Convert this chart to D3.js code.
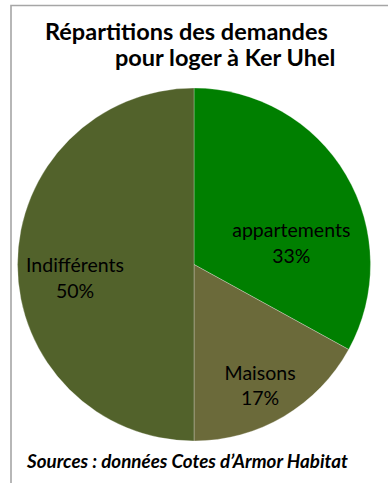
<!DOCTYPE html>
<html lang="fr">
<head>
<meta charset="utf-8">
<script src="https://cdn.jsdelivr.net/npm/d3@7"></script>
<style>
  html, body { margin: 0; padding: 0; background: #fff; }
  svg { display: block; }
  text { font-family: Lato, "Open Sans", "Noto Sans", sans-serif; fill: #000; }
</style>
</head>
<body>
<svg id="chart" width="388" height="483"></svg>
<script>
// Demand split for housing at Ker Uhel
const categories = ["appartements", "Maisons", "Indifférents"];
const shares = [33, 17, 50];
const percentLabels = ["33%", "17%", "50%"];
const sliceColors = ["#007f00", "#6b6a3a", "#52622b"];

const titleLines = ["Répartitions des demandes", "pour loger à Ker Uhel"];
const sourceNote = "Sources : données Cotes d’Armor Habitat";

const W = 388, H = 483;
const cx = 194, cy = 264.5, radius = 176.5, labelRadius = 120;

const svg = d3.select("#chart");

// frame (top and left edges visible)
svg.append("path")
  .attr("d", `M11,${H} L11,5.5 L${W},5.5`)
  .attr("fill", "none")
  .attr("stroke", "#a6a6a6")
  .attr("stroke-width", 1.6);

// title, two separate lines
svg.append("text")
  .attr("x", 45).attr("y", 39.5)
  .attr("font-weight", 700)
  .attr("font-size", 23.5)
  .text(titleLines[0]);
svg.append("text")
  .attr("x", 115).attr("y", 65.5)
  .attr("font-weight", 700)
  .attr("font-size", 23.5)
  .text(titleLines[1]);

// pie
const data = categories.map((c, i) => ({ name: c, value: shares[i], pct: percentLabels[i], color: sliceColors[i] }));
const pie = d3.pie().value(d => d.value).sort(null).startAngle(0).endAngle(2 * Math.PI);
const arc = d3.arc().innerRadius(0).outerRadius(radius);
const labelArc = d3.arc().innerRadius(labelRadius).outerRadius(labelRadius);
const arcs = pie(data);

const g = svg.append("g").attr("transform", `translate(${cx},${cy})`);
g.selectAll("path.slice")
  .data(arcs)
  .join("path")
  .attr("class", "slice")
  .attr("d", arc)
  .attr("fill", d => d.data.color)
  .attr("stroke", "rgba(255,255,255,0.35)")
  .attr("stroke-width", 0.8);

// label placement relative to each slice centroid
const labelShift = { "appartements": [-6, 38], "Maisons": [5, 16], "Indifférents": [1, 11.5] };

const labels = g.selectAll("text.lbl")
  .data(arcs)
  .join("text")
  .attr("class", "lbl")
  .attr("text-anchor", "middle")
  .attr("font-size", 19.5)
  .attr("fill", "#0d0d0d")
  .attr("transform", d => {
    const [x, y] = labelArc.centroid(d);
    const s = labelShift[d.data.name];
    return `translate(${x + s[0]},${y + s[1]})`;
  });
labels.append("tspan").attr("x", 0).attr("y", -4).text(d => d.data.name);
labels.append("tspan").attr("x", 0).attr("y", 21.5).text(d => d.data.pct);

// source note
svg.append("text")
  .attr("x", 27)
  .attr("y", 468)
  .attr("font-weight", 700)
  .attr("font-style", "italic")
  .attr("font-size", 18.8)
  .text(sourceNote);
</script>
</body>
</html>
